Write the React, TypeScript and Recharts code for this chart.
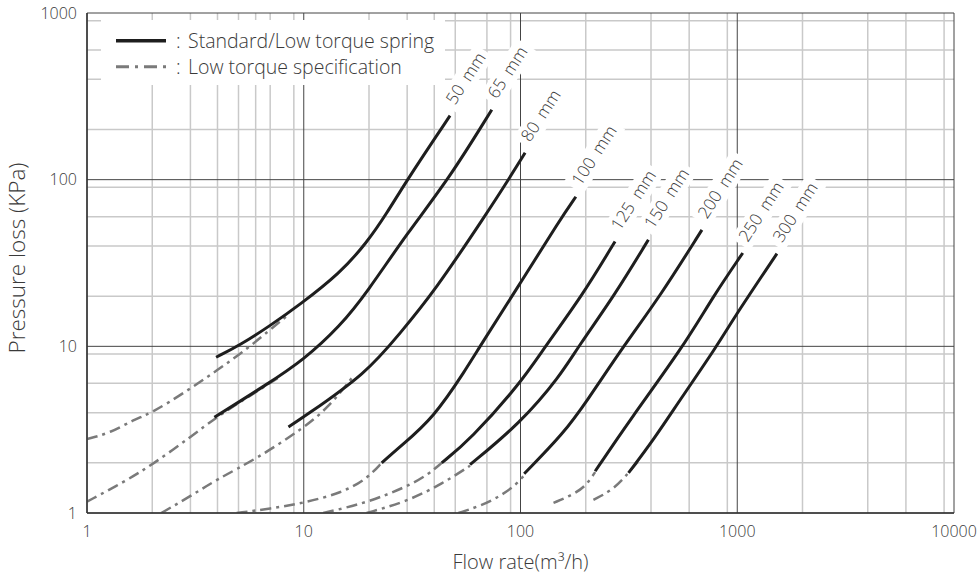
import {
  LineChart,
  Line,
  XAxis,
  YAxis,
  CartesianGrid,
  ReferenceDot,
  Legend,
} from 'recharts';

// Pressure loss curves: [flow m3/h, loss kPa]
const std50 = [[3.94, 8.6], [5.1, 10.2], [7, 13.3], [9.6, 17.8], [14.7, 27.5], [19.5, 41.7], [24.2, 63], [30, 100], [47.3, 242]];
const std65 = [[3.87, 3.75], [6.75, 5.9], [10, 8.3], [14.7, 13.2], [19.5, 20.9], [30, 47.8], [46.5, 100], [73.7, 263]];
const std80 = [[8.5, 3.28], [10, 3.77], [19.5, 6.9], [27.8, 12], [39.6, 20.9], [70, 63], [88, 100], [105, 145]];
const std100 = [[22.9, 2.0], [27.8, 2.5], [39.6, 3.7], [56.5, 7.4], [65, 10], [100, 24], [152, 57.5], [180, 79]];
const std125 = [[43.3, 2.0], [58.5, 2.75], [100, 6.0], [130, 10], [192, 20], [273, 42.6]];
const std150 = [[58.5, 1.95], [100, 3.47], [152, 6.6], [185, 10], [270, 20], [389, 43.6]];
const std200 = [[104, 1.72], [158, 3.0], [202, 4.67], [298, 10], [441, 20], [687, 50]];
const std250 = [[221, 1.78], [320, 3.63], [565, 10], [775, 20], [1060, 36.3]];
const std300 = [[315, 1.74], [411, 2.75], [545, 4.78], [805, 10], [996, 15.8], [1524, 36]];

const low50 = [[1, 2.78], [1.28, 3.02], [1.64, 3.63], [2, 4.0], [2.8, 5.25], [4, 7.2], [5.5, 9.7], [7, 12.6], [8.3, 15.1]];
const low65 = [[1, 1.17], [1.5, 1.55], [2, 1.95], [3, 2.85], [4, 3.8], [5.5, 4.94], [7, 6.03], [7.8, 6.6]];
const low80 = [[2.2, 1.0], [3, 1.26], [4, 1.6], [6, 2.1], [10, 3.24], [13, 4.3], [16.9, 6.6]];
const low100 = [[4.9, 1.0], [7, 1.06], [10, 1.15], [15, 1.32], [19.5, 1.6], [22.9, 2.0]];
const low125 = [[12.3, 1.0], [19.5, 1.15], [29.9, 1.44], [37, 1.68], [43.3, 2.0]];
const low150 = [[19.5, 1.0], [29.9, 1.17], [44, 1.51], [58.5, 1.92]];
const low200 = [[51.7, 1.0], [65, 1.1], [80.5, 1.26], [95, 1.47], [103, 1.66]];
const low250 = [[142, 1.15], [175, 1.29], [200, 1.45], [221, 1.76]];
const low300 = [[217, 1.2], [268, 1.38], [315, 1.74], [350, 2.05]];

const SIZES = ['50', '65', '80', '100', '125', '150', '200', '250', '300'];
const STANDARD = [std50, std65, std80, std100, std125, std150, std200, std250, std300];
const LOW_TORQUE = [low50, low65, low80, low100, low125, low150, low200, low250, low300];

const X_TICKS = [1, 10, 100, 1000, 10000];
const Y_TICKS = [1, 10, 100, 1000];
const MINOR_STEPS = [2, 3, 4, 5, 6, 7, 8, 9];

const X_MINOR = X_TICKS.slice(0, -1).flatMap((d) => MINOR_STEPS.map((m) => d * m));
const Y_MINOR = Y_TICKS.slice(0, -1).flatMap((d) => MINOR_STEPS.map((m) => d * m));

const FONT = '"Open Sans", "Liberation Sans", Arial, sans-serif';
const TEXT = '#3a3a3a';
const SOLID = '#1e1e1e';
const DASHED = '#7a7a7a';
const DASH = '11 5 3 5';

const toPoints = (pairs: number[][]) => pairs.map(([x, y]) => ({ x, y }));

function SizeLabel({ cx, cy, size }: { cx?: number; cy?: number; size: string }) {
  if (cx == null || cy == null) return null;
  const w = size.length * 9.7 + 40;
  return (
    <g transform={`translate(${cx + 5},${cy - 10}) rotate(-57)`}>
      <rect x={-5} y={-17} width={w + 8} height={23} fill="#fff" />
      <text x={0} y={0} fontSize={17} fontWeight={300} fill={TEXT} fontFamily={FONT}>
        {size}
        <tspan dx={8}>mm</tspan>
      </text>
    </g>
  );
}

function XTitle(props: any) {
  const vb = props.viewBox || {};
  const cx = (vb.x ?? 87) + (vb.width ?? 867) / 2;
  return (
    <text x={cx} y={569} textAnchor="middle" fontSize={20} fontWeight={300} fill={TEXT} fontFamily={FONT}>
      Flow rate(m³/h)
    </text>
  );
}

function YTitle(props: any) {
  const vb = props.viewBox || {};
  const cx = (vb.x ?? 0) + 16;
  const cy = (vb.y ?? 13) + (vb.height ?? 500) / 2 - 5;
  return (
    <text
      x={cx}
      y={cy}
      transform={`rotate(-90 ${cx} ${cy})`}
      textAnchor="middle"
      dominantBaseline="central"
      fontSize={22.5}
      fontWeight={300}
      fill={TEXT}
      fontFamily={FONT}
    >
      Pressure loss (KPa)
    </text>
  );
}

function LegendBox() {
  return (
    <svg width={344} height={65} style={{ display: 'block', background: '#fff' }}>
      <line x1={15} x2={65} y1={20.7} y2={20.7} stroke={SOLID} strokeWidth={3.5} />
      <line x1={15} x2={65} y1={46.7} y2={46.7} stroke={DASHED} strokeWidth={3} strokeDasharray="13 6 3 6" />
      <g fontFamily={FONT} fontSize={19.5} fontWeight={300} fill={TEXT} dominantBaseline="central">
        <text x={75} y={20}>:</text>
        <text x={87} y={20.7}>Standard/Low torque spring</text>
        <text x={75} y={46}>:</text>
        <text x={87} y={46.7}>Low torque specification</text>
      </g>
    </svg>
  );
}

export default function App() {
  return (
    <div>
      <style>{'body{margin:0}'}</style>
      <LineChart width={980} height={576} margin={{ top: 13, right: 26, bottom: 0, left: 0 }}>
        <CartesianGrid
          horizontalValues={Y_MINOR}
          verticalValues={X_MINOR}
          stroke="#c9c9c9"
          strokeWidth={1.5}
          fill="none"
        />
        <CartesianGrid
          horizontalValues={Y_TICKS}
          verticalValues={X_TICKS}
          stroke="#444"
          strokeWidth={1}
          fill="none"
        />
        <XAxis
          type="number"
          dataKey="x"
          scale="log"
          domain={[1, 10000]}
          ticks={X_TICKS}
          allowDataOverflow
          height={63}
          tickSize={0}
          tickMargin={13}
          tickLine={false}
          axisLine={{ stroke: '#333', strokeWidth: 1.5 }}
          tick={{ fill: TEXT, fontSize: 16, fontFamily: FONT, fontWeight: 300 }}
          label={<XTitle />}
        />
        <YAxis
          type="number"
          scale="log"
          domain={[1, 1000]}
          ticks={Y_TICKS}
          allowDataOverflow
          width={87}
          tickSize={0}
          tickMargin={10}
          tickLine={false}
          axisLine={{ stroke: '#333', strokeWidth: 1.5 }}
          tick={{ fill: TEXT, fontSize: 16, fontFamily: FONT, fontWeight: 300 }}
          label={<YTitle />}
        />
        {LOW_TORQUE.map((series, i) => (
          <Line
            key={`low-${SIZES[i]}`}
            name={`low-${SIZES[i]}`}
            data={toPoints(series)}
            dataKey="y"
            type="basis"
            stroke={DASHED}
            strokeWidth={2.5}
            strokeDasharray={DASH}
            dot={false}
            activeDot={false}
            legendType="none"
            isAnimationActive={false}
          />
        ))}
        {STANDARD.map((series, i) => (
          <Line
            key={`std-${SIZES[i]}`}
            name={`${SIZES[i]} mm`}
            data={toPoints(series)}
            dataKey="y"
            type="basis"
            stroke={SOLID}
            strokeWidth={3}
            dot={false}
            activeDot={false}
            isAnimationActive={false}
          />
        ))}
        {STANDARD.map((series, i) => {
          const last = series[series.length - 1];
          return (
            <ReferenceDot
              key={`label-${SIZES[i]}`}
              x={last[0]}
              y={last[1]}
              r={0}
              ifOverflow="visible"
              shape={(p: any) => <SizeLabel cx={p.cx} cy={p.cy} size={SIZES[i]} />}
            />
          );
        })}
        <Legend
          layout="horizontal"
          verticalAlign="middle"
          align="center"
          wrapperStyle={{ position: 'absolute', left: 101, top: 20, width: 344, height: 65 }}
          content={() => <LegendBox />}
        />
      </LineChart>
    </div>
  );
}
